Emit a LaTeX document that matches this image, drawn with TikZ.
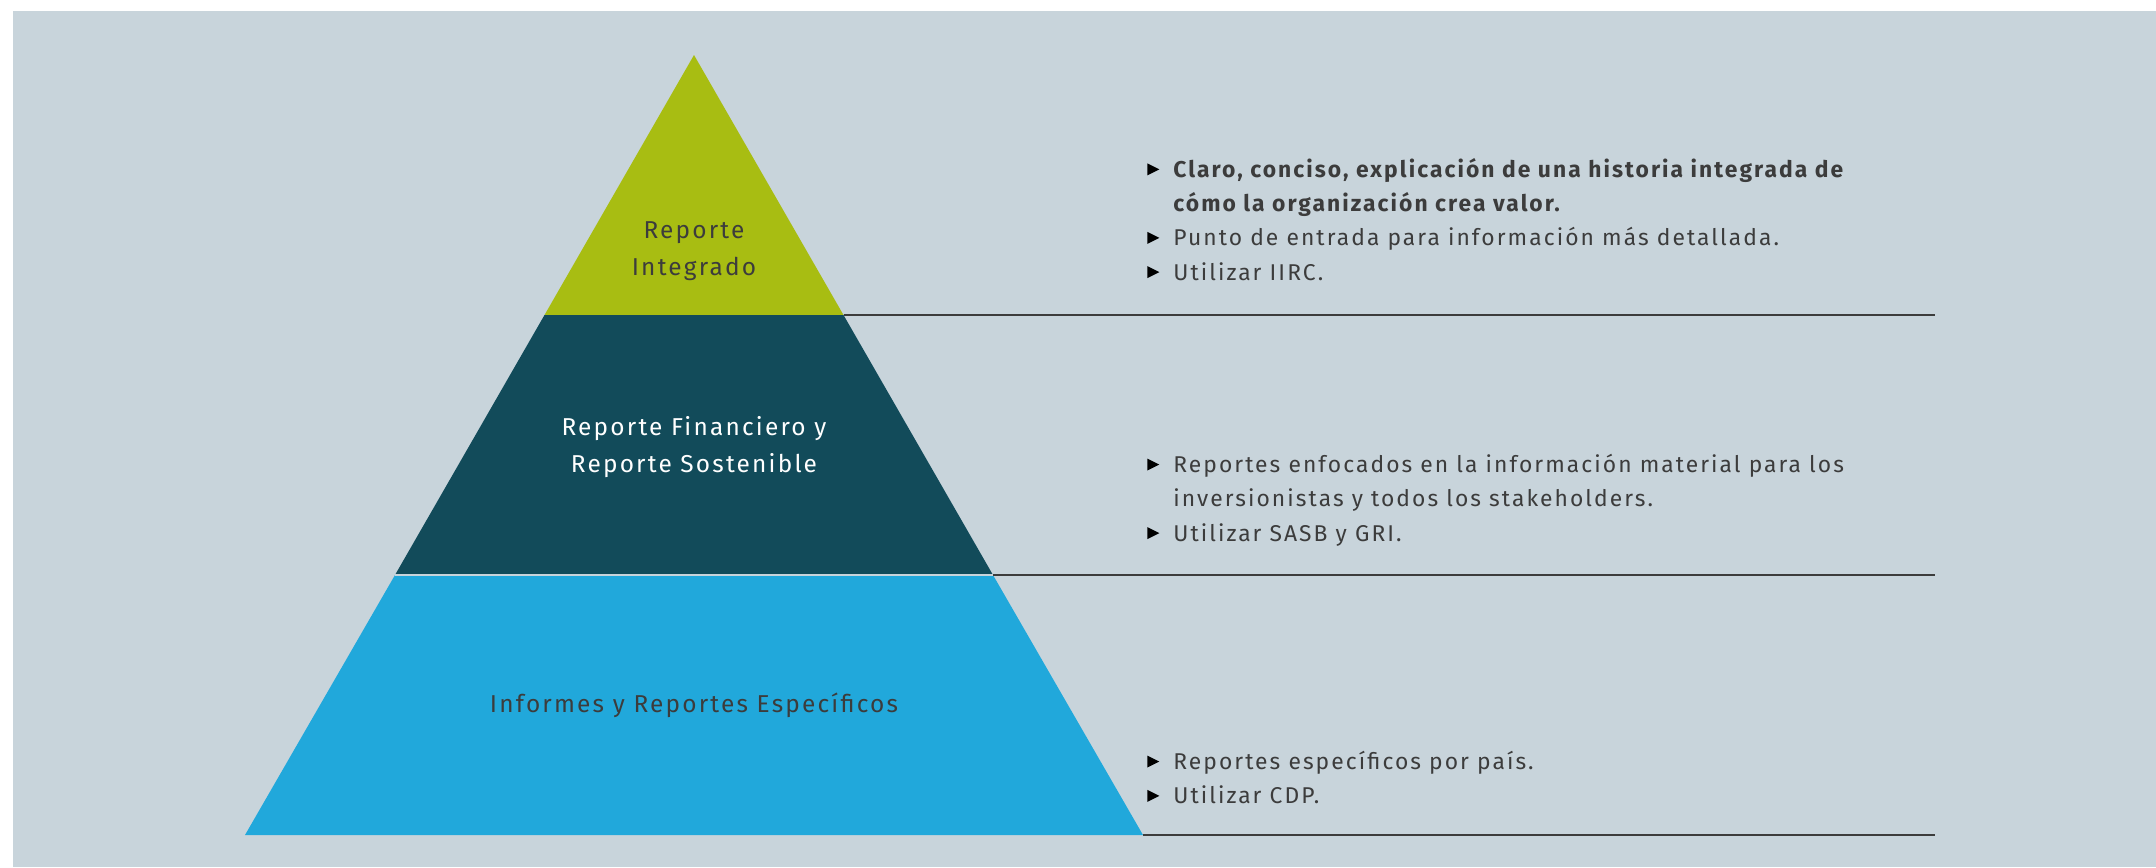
\documentclass[tikz,border=0pt]{standalone}
\usepackage{fontspec}
\setmainfont{Fira Sans}[LetterSpace=9]
\usetikzlibrary{positioning}

\definecolor{bgblue}{HTML}{C8D4DB}
\definecolor{lime}{HTML}{A8BD12}
\definecolor{petrol}{HTML}{124B5A}
\definecolor{skyblue}{HTML}{21A8DB}
\definecolor{ink}{HTML}{3C3C3C}

\tikzstyle{tierlbl} = [align=center, text=ink, font=\fontsize{13.9}{21}\selectfont]
\tikzstyle{notes} = [align=left, anchor=north west, inner sep=0pt, text=ink, font=\fontsize{13}{19.5}\selectfont]
\tikzstyle{rule} = [line width=1.5pt, draw=ink]
\newcommand{\tri}{\makebox[14.8pt][l]{\tikz[baseline=0pt]\fill[black] (0pt,1.2pt) -- (0pt,8pt) -- (6.8pt,4.6pt) -- cycle;}}
\newcommand{\cont}{\hspace*{14.8pt}}

\begin{document}
\begin{tikzpicture}[x=0.02cm, y=-0.02cm]

\useasboundingbox (0,0) rectangle (2156,867);
\fill[bgblue] (13,11) rectangle (2156,867);

% pyramid corners
\coordinate (apex) at (694,55);
\coordinate (t1l) at (544.5,315);
\coordinate (t1r) at (843.5,315);
\coordinate (t2l) at (395,575);
\coordinate (t2r) at (993,575);
\coordinate (t3l) at (245,835);
\coordinate (t3r) at (1143,835);

\fill[lime] (apex) -- (t1r) -- (t1l) -- cycle;
\fill[petrol] (t1l) -- (t1r) -- (t2r) -- (t2l) -- cycle;
\fill[skyblue] (t2l) -- (t2r) -- (t3r) -- (t3l) -- cycle;
\draw[bgblue, line width=0.6pt] (t2l) -- (t2r);

% rules to the right
\coordinate (e1) at (1935,315);
\coordinate (e2) at (1935,575);
\coordinate (e3) at (1935,835);
\draw [rule] (t1r) -- (e1);
\draw [rule] (t2r) -- (e2);
\draw [rule] (t3r) -- (e3);

\node (ri) [tierlbl] at (694,251) {Reporte\\Integrado};
\node (rf) [tierlbl, text=white] at (694,447) {Reporte Financiero y\\Reporte Sostenible};
\node (ie) [tierlbl] at (694,705) {Informes y Reportes Específicos};

\node (n1) [notes] at (1147,158) {\tri\textbf{Claro, conciso, explicación de una historia integrada de}\\
  \cont\textbf{cómo la organización crea valor.}\\
  \tri Punto de entrada para información más detallada.\\
  \tri Utilizar IIRC.};
\node (n2) [notes] at (1147,454) {\tri Reportes enfocados en la información material para los\\
  \cont inversionistas y todos los stakeholders.\\
  \tri Utilizar SASB y GRI.};
\node (n3) [notes] at (1147,751) {\tri Reportes específicos por país.\\
  \tri Utilizar CDP.};

\end{tikzpicture}
\end{document}
